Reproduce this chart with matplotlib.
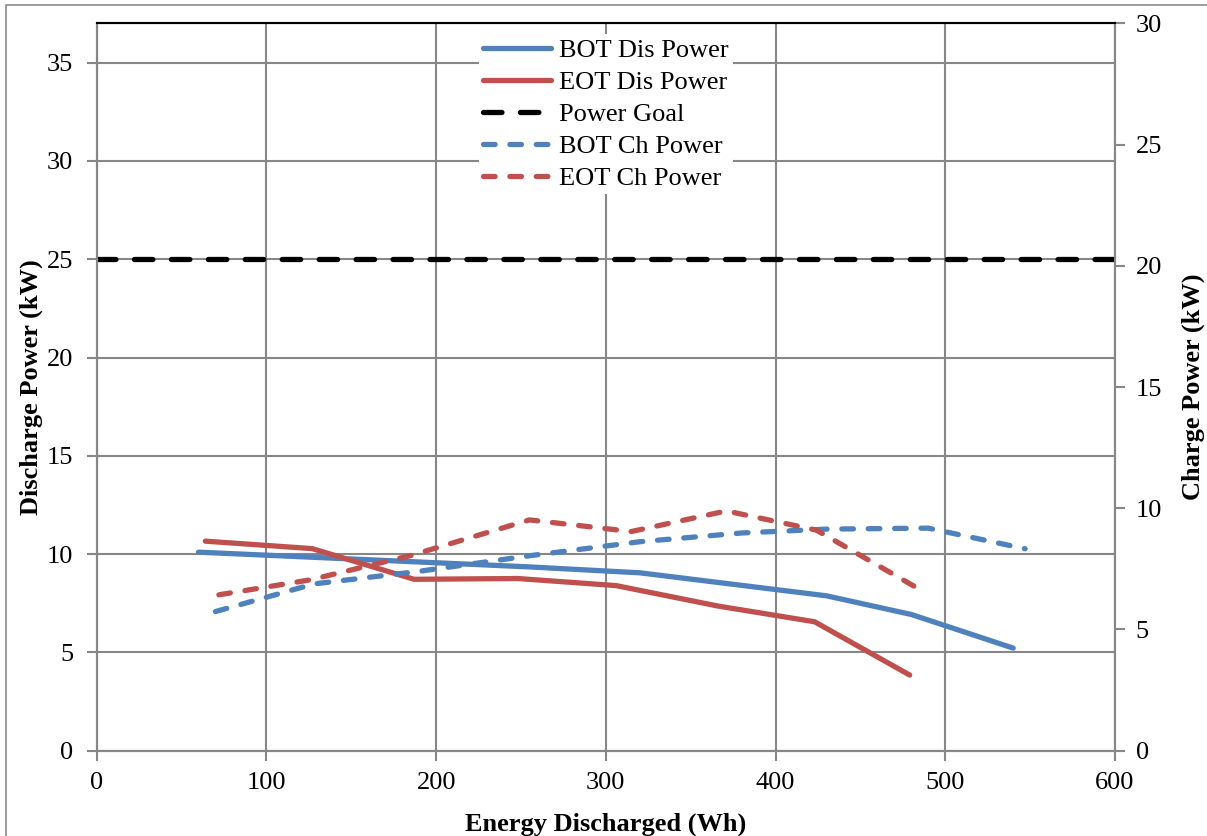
import matplotlib.pyplot as plt
from matplotlib.patches import Rectangle

plt.rcParams['font.family'] = ['Liberation Serif', 'DejaVu Serif']

# Energy discharged (Wh) and power values
bot_dis_x = [60, 125, 190, 255, 320, 430, 480, 540]
bot_dis_y = [10.1, 9.85, 9.6, 9.35, 9.05, 7.88, 6.93, 5.22]

eot_dis_x = [64, 127, 187, 248, 306, 366, 423, 479]
eot_dis_y = [10.66, 10.28, 8.72, 8.76, 8.4, 7.36, 6.56, 3.85]

goal_x = [0, 600]
goal_y = [25, 25]

bot_ch_x = [70, 128, 190, 256, 320, 380, 430, 490, 547]
bot_ch_y = [5.74, 6.88, 7.4, 8.05, 8.62, 8.98, 9.14, 9.18, 8.33]

eot_ch_x = [72, 126, 185, 255, 315, 371, 424, 482]
eot_ch_y = [6.43, 7.05, 8.05, 9.52, 9.04, 9.89, 9.1, 6.77]

x_ticks = [0, 100, 200, 300, 400, 500, 600]
left_ticks = [0, 5, 10, 15, 20, 25, 30, 35]
right_ticks = [0, 5, 10, 15, 20, 25, 30]

blue = '#4F81BD'
red = '#C0504D'
grid_col = '#878787'
lw = 3.8

fig = plt.figure(figsize=(12.07, 8.36), dpi=100)
ax1 = fig.add_axes([0.0801, 0.102, 0.8437, 0.8701])
ax2 = ax1.twinx()

# left axis: discharge
l1, = ax1.plot(bot_dis_x, bot_dis_y, color=blue, lw=lw, solid_capstyle='round',
               label='BOT Dis Power', zorder=3)
l2, = ax1.plot(eot_dis_x, eot_dis_y, color=red, lw=lw, solid_capstyle='round',
               label='EOT Dis Power', zorder=3)
l3, = ax1.plot(goal_x, goal_y, color='black', lw=lw, dashes=(3.5, 3.5),
               dash_capstyle='round', label='Power Goal', zorder=3)

# right axis: charge
l4, = ax2.plot(bot_ch_x, bot_ch_y, color=blue, lw=lw, dashes=(2.2, 2.8),
               dash_capstyle='round', label='BOT Ch Power')
l5, = ax2.plot(eot_ch_x, eot_ch_y, color=red, lw=lw, dashes=(2.2, 2.8),
               dash_capstyle='round', label='EOT Ch Power')

ax1.set_xlim(0, 600)
ax1.set_ylim(0, 37)
ax2.set_ylim(0, 30)
ax1.set_xticks(x_ticks)
ax1.set_yticks(left_ticks)
ax2.set_yticks(right_ticks)

ax1.grid(True, color=grid_col, lw=1.5)
ax1.set_axisbelow(True)

for ax in (ax1, ax2):
    for side in ('left', 'right', 'bottom'):
        ax.spines[side].set_color(grid_col)
        ax.spines[side].set_linewidth(1.5)
    ax.spines['top'].set_color('black')
    ax.spines['top'].set_linewidth(1.5)
    ax.tick_params(length=7, width=1.5, color=grid_col, labelsize=19, pad=8)
ax1.tick_params(axis='y', pad=10)

ax1.set_xlabel('Energy Discharged (Wh)', fontsize=19, fontweight='bold', labelpad=14)
ax1.set_ylabel('Discharge Power (kW)', fontsize=19, fontweight='bold', labelpad=3)
ax2.set_ylabel('Charge Power (kW)', fontsize=19, fontweight='bold', labelpad=14)

leg = ax2.legend(handles=[l1, l2, l3, l4, l5], loc='upper center',
                 bbox_to_anchor=(0.5, 1.003), frameon=True, fontsize=19,
                 handlelength=2.6, handletextpad=0.3, labelspacing=0.33,
                 borderpad=0.15, fancybox=False)
leg.get_frame().set_edgecolor('none')
leg.get_frame().set_facecolor('white')
leg.get_frame().set_alpha(1)

# outer chart frame
fig.patches.append(Rectangle((6 / 1207, -0.05), 1.2, 1.05 - 5 / 836,
                             transform=fig.transFigure, fill=False,
                             edgecolor='#8c8c8c', lw=1.2))

fig.savefig('out.png', dpi=100)
